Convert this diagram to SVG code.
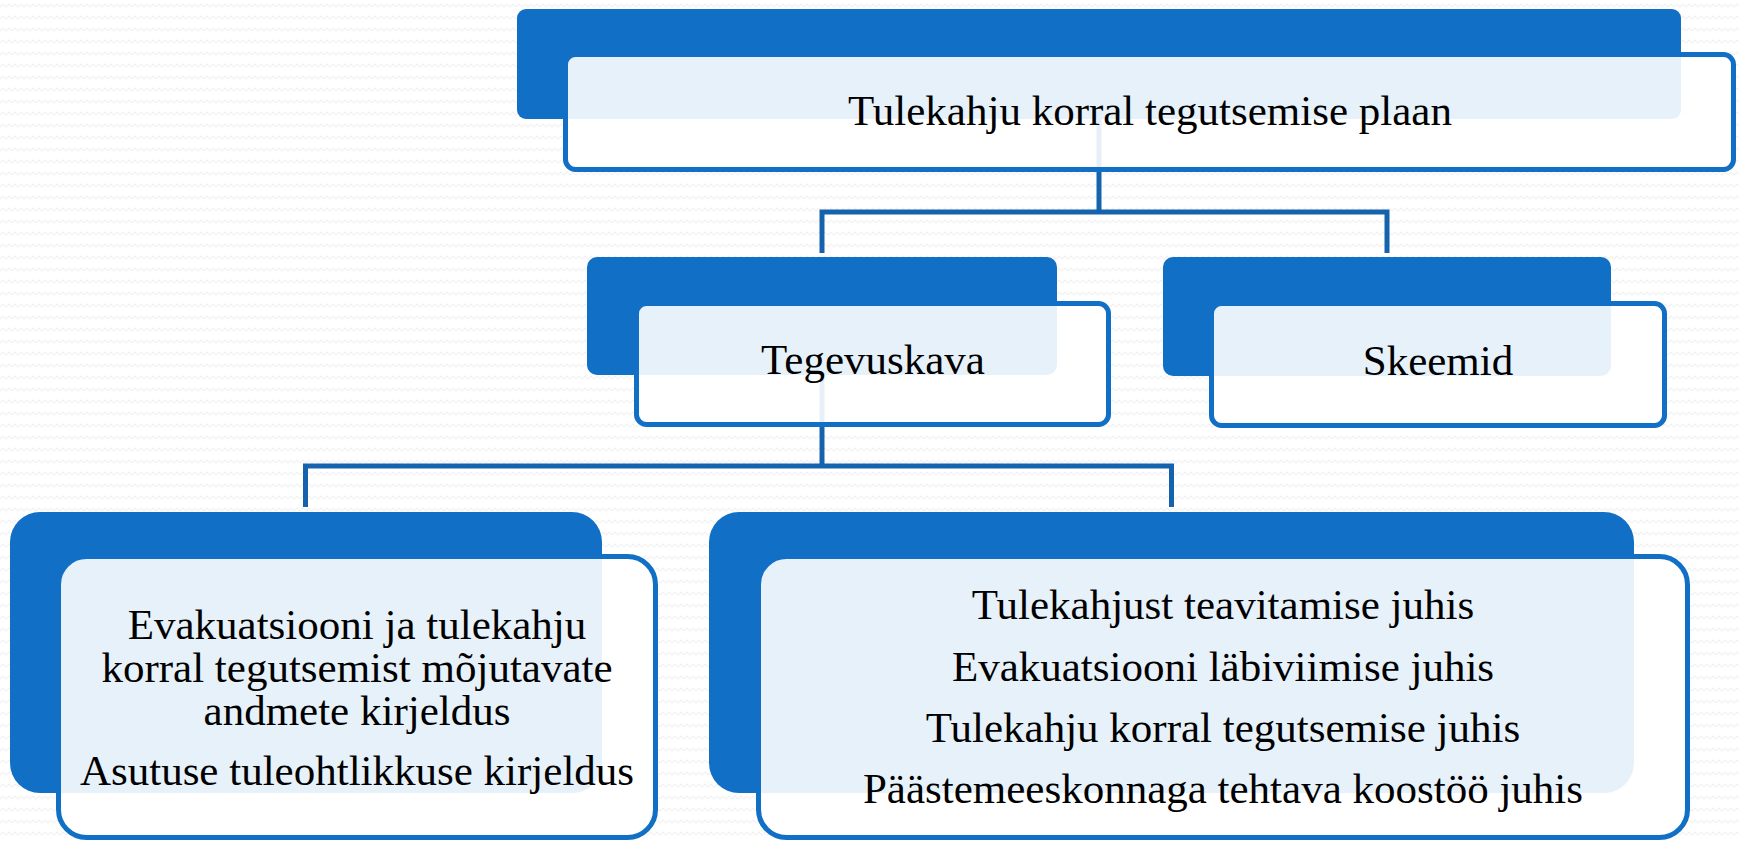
<svg xmlns="http://www.w3.org/2000/svg" width="1739" height="842" viewBox="0 0 1739 842">
<style>
.dark{fill:#1170C5;}
.box{fill:#FFFFFF;fill-opacity:0.9;stroke:#1170C5;stroke-width:5;}
.conn{fill:none;stroke:#1562AD;stroke-width:5;}
.t{font-family:"Liberation Serif","DejaVu Serif",serif;font-size:43px;fill:#000;text-anchor:middle;}
</style>
<defs>
<pattern id="bg" width="12" height="12" patternUnits="userSpaceOnUse">
<polyline points="0,7 3,4 6,7 9,4 12,7" fill="none" stroke="#F1F1F1" stroke-width="1.2"/>
</pattern>
</defs>
<rect x="0" y="0" width="1739" height="842" fill="#FFFFFF"/>
<rect x="0" y="0" width="1739" height="842" fill="url(#bg)"/>
<g id="connectors">
<path class="conn" d="M1099,119 V212"/>
<path class="conn" d="M822,253 V212 H1387 V253"/>
<path class="conn" d="M822,375 V466"/>
<path class="conn" d="M305.5,507 V466 H1171.5 V507"/>
</g>
<g id="node-plaan">
<rect class="dark" x="517" y="9" width="1164" height="110" rx="9"/>
<rect class="box" x="565.5" y="54.5" width="1168" height="115" rx="10"/>
<text class="t" x="1150" y="125">Tulekahju korral tegutsemise plaan</text>
</g>
<g id="node-tegevuskava">
<rect class="dark" x="587" y="257" width="470" height="118" rx="10"/>
<rect class="box" x="636.5" y="303.5" width="472" height="121" rx="10"/>
<text class="t" x="873" y="374">Tegevuskava</text>
</g>
<g id="node-skeemid">
<rect class="dark" x="1163" y="257" width="448" height="119" rx="10"/>
<rect class="box" x="1211.5" y="303.5" width="453" height="122" rx="10"/>
<text class="t" x="1438" y="375">Skeemid</text>
</g>
<g id="node-kirjeldused">
<rect class="dark" x="10" y="512" width="592" height="281" rx="30"/>
<rect class="box" x="58.5" y="556.5" width="597" height="281" rx="28"/>
<text class="t" x="357" y="639">Evakuatsiooni ja tulekahju</text>
<text class="t" x="357" y="682">korral tegutsemist mõjutavate</text>
<text class="t" x="357" y="725">andmete kirjeldus</text>
<text class="t" x="357" y="785">Asutuse tuleohtlikkuse kirjeldus</text>
</g>
<g id="node-juhised">
<rect class="dark" x="709" y="512" width="925" height="281" rx="30"/>
<rect class="box" x="758.5" y="556.5" width="929" height="281" rx="28"/>
<text class="t" x="1223" y="619">Tulekahjust teavitamise juhis</text>
<text class="t" x="1223" y="681">Evakuatsiooni läbiviimise juhis</text>
<text class="t" x="1223" y="742">Tulekahju korral tegutsemise juhis</text>
<text class="t" x="1223" y="803">Päästemeeskonnaga tehtava koostöö juhis</text>
</g>
</svg>
